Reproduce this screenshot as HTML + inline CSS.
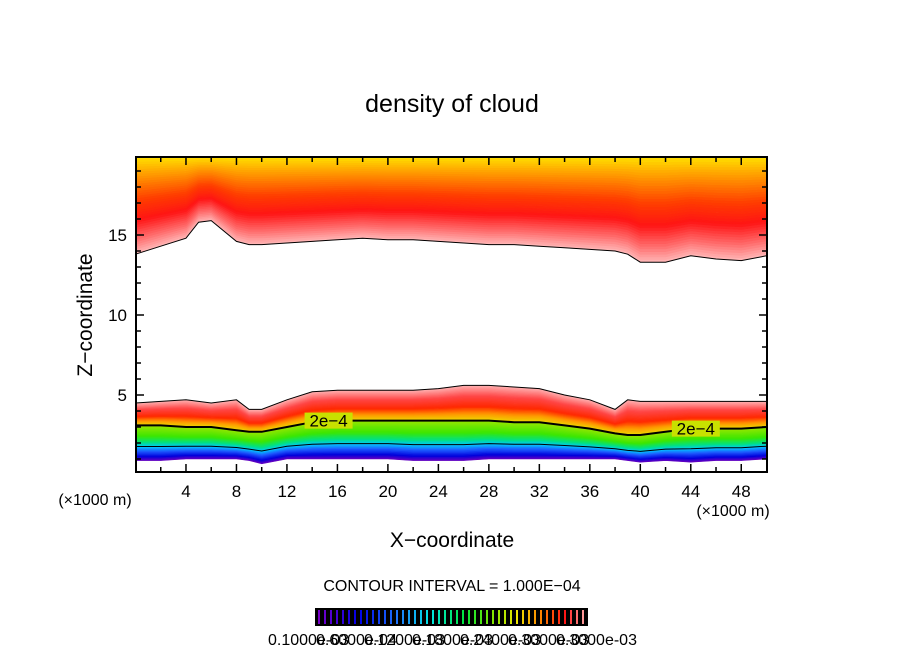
<!DOCTYPE html>
<html><head><meta charset="utf-8"><style>
body{margin:0;background:#fff}
svg{display:block;font-family:"Liberation Sans",sans-serif}
</style></head><body>
<svg id="c" width="904" height="654" viewBox="0 0 904 654">
<text x="452" y="112" font-size="25" text-anchor="middle">density of cloud</text>
<g id="plot"></g>
<rect x="136" y="157" width="631" height="315" fill="none" stroke="#000" stroke-width="2"/>
<g id="axes"></g>
<text x="95" y="505" font-size="16" text-anchor="middle">(×1000 m)</text>
<text x="733" y="516" font-size="16" text-anchor="middle">(×1000 m)</text>
<text x="452" y="547" font-size="21" text-anchor="middle">X−coordinate</text>
<text transform="translate(92,315) rotate(-90)" font-size="21" text-anchor="middle">Z−coordinate</text>
<text x="452" y="591" font-size="16" text-anchor="middle">CONTOUR INTERVAL = 1.000E−04</text>
<g id="cbar"></g>
</svg>
<script>
const xs=[0,2,4,5,6,8,9,10,12,14,16,18,20,22,24,26,28,30,32,34,36,38,39,40,42,44,46,48,50];
const upperBase=[13.8,14.3,14.8,15.8,15.9,14.6,14.4,14.4,14.5,14.6,14.7,14.8,14.7,14.7,14.6,14.5,14.4,14.4,14.3,14.2,14.1,14.0,13.8,13.3,13.3,13.7,13.5,13.4,13.7];
const lowerTop=[4.5,4.6,4.7,4.6,4.5,4.7,4.1,4.1,4.7,5.2,5.3,5.3,5.3,5.3,5.4,5.6,5.6,5.5,5.4,5.0,4.7,4.1,4.7,4.6,4.6,4.6,4.6,4.6,4.6];
const contour=[3.1,3.1,3.0,3.0,3.0,2.8,2.7,2.7,3.0,3.3,3.4,3.4,3.4,3.4,3.4,3.4,3.4,3.3,3.3,3.1,2.9,2.6,2.5,2.5,2.7,2.9,2.9,2.9,3.0];
const lowerBase=[0.9,0.9,1.0,1.0,1.0,1.0,0.9,0.7,1.0,1.0,1.0,1.0,1.0,0.9,0.9,0.9,1.0,1.0,1.0,1.0,1.0,1.0,0.9,0.8,0.9,0.8,0.9,0.9,1.0];
const xTicks=[4,8,12,16,20,24,28,32,36,40,44,48];
const yTicks=[5,10,15];
const cbLabels=["0.1000e-03","0.6000e-04","0.1200e-03","0.1800e-03","0.2400e-03","0.3000e-03","0.3000e-03"];
const NS="http://www.w3.org/2000/svg";
const X=v=>135.5+v*12.62, Y=v=>475-v*16, ZTOP=19.9, ZBOT=0.2;
function el(t,a,p){const e=document.createElementNS(NS,t);for(const k in a)e.setAttribute(k,a[k]);p.appendChild(e);return e;}
function lerpC(stops,f){for(let i=1;i<stops.length;i++){if(f<=stops[i][0]){const a=stops[i-1],b=stops[i],t=(f-a[0])/(b[0]-a[0]||1);const c=[0,1,2].map(j=>Math.round(a[1][j]+(b[1][j]-a[1][j])*t));return `rgb(${c})`;}}const l=stops[stops.length-1][1];return `rgb(${l})`;}
const plot=document.getElementById('plot');
function bands(lo,hi,stops,n,name){
 for(let i=0;i<n;i++){
  const f0=i/n,f1=(i+1)/n;
  const top=xs.map((x,k)=>X(x)+','+Y(lo[k]+(hi[k]-lo[k])*f1));
  const bot=xs.map((x,k)=>X(x)+','+Y(lo[k]+(hi[k]-lo[k])*f0)).reverse();
  const p=el('polygon',{points:top.concat(bot).join(' '),fill:lerpC(stops,(f0+f1)/2),stroke:lerpC(stops,(f0+f1)/2),'stroke-width':0.6},plot);
  
  
 }
}
const topArr=xs.map(()=>ZTOP), botArr=xs.map(()=>ZBOT);
bands(upperBase,topArr,[[0,[255,185,185]],[0.15,[255,110,110]],[0.35,[255,20,20]],[0.55,[255,60,0]],[0.8,[255,150,0]],[1,[255,225,0]]],40,'upper-cloud');
bands(contour,lowerTop,[[0,[235,220,0]],[0.2,[255,150,0]],[0.4,[255,40,0]],[0.7,[255,70,70]],[1,[255,175,175]]],30,'lower-cloud-upper');
bands(lowerBase,contour,[[0,[110,0,190]],[0.12,[0,0,220]],[0.27,[30,90,255]],[0.4,[0,200,255]],[0.52,[0,225,130]],[0.7,[60,230,0]],[1,[150,230,0]]],30,'lower-cloud-lower');
function line(arr,w,name){const p=el('polyline',{points:xs.map((x,k)=>X(x)+','+Y(arr[k])).join(' '),fill:'none',stroke:'#000','stroke-width':w},plot);}
line(upperBase,1,'upper-cloud-edge');
line(lowerTop,1,'lower-cloud-edge');
line(contour,2,'contour-2e-4');
line(contour.map((c,k)=>lowerBase[k]+(c-lowerBase[k])*0.4),1,'contour-1e-4');
[[15.3,3.4],[44.4,2.9]].forEach(([xv,zv])=>{const r=el('rect',{x:X(xv)-24,y:Y(zv)-8,width:48,height:16,fill:'rgb(200,225,0)'},plot);
 const t=el('text',{x:X(xv),y:Y(zv)+6,'font-size':17,'text-anchor':'middle'},plot);t.textContent='2e−4';});
const axes=document.getElementById('axes');
for(let v=2;v<50;v+=2){const big=v%4===0;const L=big?8:5;
 const a=el('line',{x1:X(v),x2:X(v),y1:472,y2:472-L,stroke:'#000','stroke-width':1.5},axes);
 const b=el('line',{x1:X(v),x2:X(v),y1:157,y2:157+L,stroke:'#000','stroke-width':1.5},axes);}
xTicks.forEach(v=>{const t=el('text',{x:X(v),y:497,'font-size':17,'text-anchor':'middle'},axes);t.textContent=v;});
for(let v=1;v<20;v++){const L=v%5===0?8:5;
 const a=el('line',{x1:136,x2:136+L,y1:Y(v),y2:Y(v),stroke:'#000','stroke-width':1.5},axes);
 const b=el('line',{x1:767,x2:767-L,y1:Y(v),y2:Y(v),stroke:'#000','stroke-width':1.5},axes);}
yTicks.forEach(v=>{const t=el('text',{x:127,y:Y(v)+6,'font-size':17,'text-anchor':'end'},axes);t.textContent=v;});
const cb=document.getElementById('cbar');
const bg=el('rect',{x:315,y:608,width:273,height:18,fill:'#000'},cb);
const cstops=[[0,[120,0,200]],[0.15,[0,0,230]],[0.3,[30,120,255]],[0.42,[0,230,230]],[0.55,[0,230,60]],[0.65,[120,230,0]],[0.75,[240,230,0]],[0.85,[255,120,0]],[0.93,[255,20,20]],[1,[255,150,150]]];
for(let i=0;i<45;i++){const x=319+i*6;const l=el('line',{x1:x,x2:x,y1:610,y2:624,stroke:lerpC(cstops,i/44),'stroke-width':2},cb);}
cbLabels.forEach((s,i)=>{const t=el('text',{x:268+i*48,y:645,'font-size':16},cb);t.textContent=s;});
</script>
</body></html>
